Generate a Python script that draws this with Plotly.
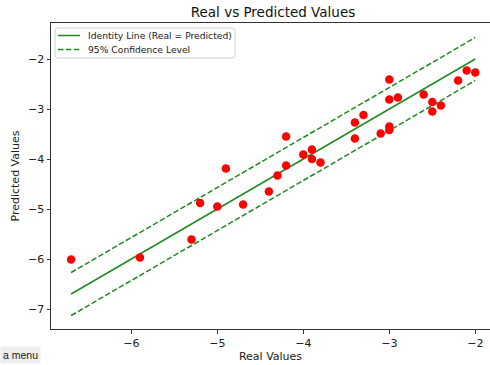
import plotly.graph_objects as go

real_values = [-6.7, -5.9, -5.3, -5.2, -5.0, -4.9, -4.7, -4.4, -4.3, -4.2, -4.2,
               -4.0, -3.9, -3.9, -3.8, -3.4, -3.3, -3.4, -3.0, -3.0, -2.9, -3.1,
               -3.0, -3.0, -2.6, -2.5, -2.4, -2.5, -2.2, -2.1, -2.0]
predicted_values = [-6.01, -5.97, -5.61, -4.88, -4.95, -4.19, -4.91, -4.65, -4.33, -4.13, -3.55,
                    -3.91, -3.81, -4.0, -4.07, -3.27, -3.12, -3.59, -2.41, -2.81, -2.77, -3.49,
                    -3.35, -3.42, -2.71, -2.86, -2.93, -3.05, -2.43, -2.23, -2.27]
ci_half_width = 0.43
x_ticks = [-6, -5, -4, -3, -2]
y_ticks = [-7, -6, -5, -4, -3, -2]
legend_labels = ["Identity Line (Real = Predicted)", "95% Confidence Level"]

x_line = [min(real_values), max(real_values)]
y_ident = list(x_line)
y_up = [v + ci_half_width for v in x_line]
y_lo = [v - ci_half_width for v in x_line]

GREEN = "#1f8a1f"
DASH = "5.5px,2.4px"
fig = go.Figure()
fig.add_trace(go.Scatter(x=x_line, y=y_ident, mode="lines",
                         line=dict(color=GREEN, width=1.5),
                         name=legend_labels[0], showlegend=False))
fig.add_trace(go.Scatter(x=x_line, y=y_up, mode="lines",
                         line=dict(color=GREEN, width=1.5, dash=DASH),
                         name=legend_labels[1], showlegend=False))
fig.add_trace(go.Scatter(x=x_line, y=y_lo, mode="lines",
                         line=dict(color=GREEN, width=1.5, dash=DASH),
                         name=legend_labels[1], showlegend=False))
fig.add_trace(go.Scatter(x=real_values, y=predicted_values, mode="markers",
                         marker=dict(color="#ff0000", size=8.5, line=dict(width=0)),
                         showlegend=False))

L, T, B = 51, 23, 36
W, H = 490, 365
pw = W - L
ph = H - T - B


def px(xp):
    return (xp - L) / pw


def py(yp):
    return (H - B - yp) / ph


fig.update_layout(
    width=W, height=H,
    margin=dict(l=L, r=0, t=T, b=B, pad=0),
    paper_bgcolor="white", plot_bgcolor="white",
    font=dict(family="DejaVu Sans", size=11, color="#222222"),
    title=dict(text="Real vs Predicted Values", x=273 / W, xanchor="center",
               y=1 - 12 / H, yanchor="middle", font=dict(size=13.5, color="#111111")),
    showlegend=False,
)
fig.update_xaxes(range=[-6.934, -1.829], tickvals=x_ticks, ticks="outside", ticklen=3.5,
                 tickcolor="#333333", showline=True, linecolor="#333333", linewidth=1,
                 mirror=True, showgrid=False, zeroline=False,
                 title=dict(text="Real Values", standoff=2, font=dict(size=11)),
                 tickfont=dict(size=11))
fig.update_yaxes(range=[-7.4, -1.28], tickvals=y_ticks, ticks="outside", ticklen=3.5,
                 tickcolor="#333333", showline=True, linecolor="#333333", linewidth=1,
                 mirror=False, showgrid=False, zeroline=False,
                 title=dict(text="Predicted Values", standoff=6, font=dict(size=11)),
                 tickfont=dict(size=11))

# legend box (matplotlib-style, rounded)
x0, x1, y0, y1, r = px(55), px(235), py(28), py(58), 3 / pw
ry = 3 / ph
path = (f"M {x0 + r},{y0} L {x1 - r},{y0} Q {x1},{y0} {x1},{y0 - ry} "
        f"L {x1},{y1 + ry} Q {x1},{y1} {x1 - r},{y1} L {x0 + r},{y1} "
        f"Q {x0},{y1} {x0},{y1 + ry} L {x0},{y0 - ry} Q {x0},{y0} {x0 + r},{y0} Z")
fig.add_shape(type="path", path=path, xref="paper", yref="paper",
              fillcolor="rgba(255,255,255,0.8)", line=dict(color="#d0d0d0", width=1))
rows = [35.5, 49.5]
dashes = ["solid", DASH]
for label, yrow, dsh in zip(legend_labels, rows, dashes):
    fig.add_shape(type="line", xref="paper", yref="paper",
                  x0=px(58), x1=px(80), y0=py(yrow), y1=py(yrow),
                  line=dict(color=GREEN, width=1.5, dash=dsh))
    fig.add_annotation(text=label, xref="paper", yref="paper", x=px(86), y=py(yrow),
                       xanchor="left", yanchor="middle", showarrow=False,
                       font=dict(size=9.2, color="#222222"))

fig.add_annotation(text="a menu", xref="paper", yref="paper",
                   x=px(0), y=py(355), xanchor="left", yanchor="middle",
                   showarrow=False, bgcolor="#eeeeee", borderpad=2,
                   font=dict(family="Liberation Sans", size=10.5, color="#222222"))

fig.write_html("out.html")
